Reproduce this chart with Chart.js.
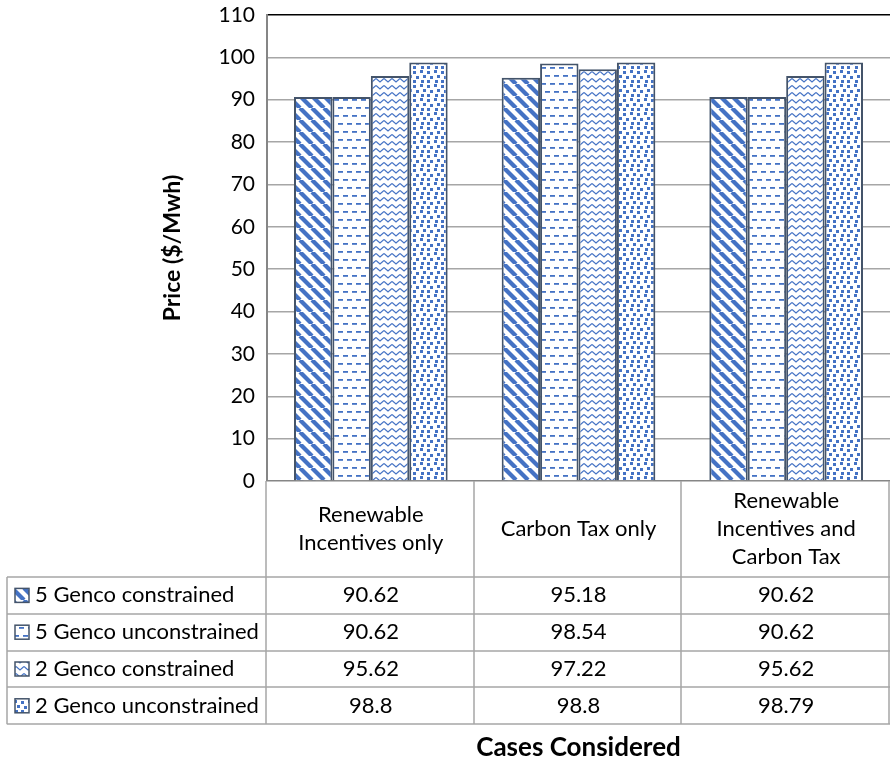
<!DOCTYPE html>
<html>
<head>
<meta charset="utf-8">
<script src="https://cdn.jsdelivr.net/npm/chart.js@4/dist/chart.umd.min.js"></script>
<style>
  body { margin: 0; background: #fff; }
  #wrap { width: 890px; height: 764px; }
</style>
</head>
<body>
<div id="wrap"><canvas id="priceChart" width="890" height="764"></canvas></div>
<script>
// Data
const categories = [['Renewable', 'Incentives only'], ['Carbon Tax only'], ['Renewable', 'Incentives and', 'Carbon Tax']];
const seriesNames = ['5 Genco constrained', '5 Genco unconstrained', '2 Genco constrained', '2 Genco unconstrained'];
const fiveConstrained = [90.62, 95.18, 90.62];
const fiveUnconstrained = [90.62, 98.54, 90.62];
const twoConstrained = [95.62, 97.22, 95.62];
const twoUnconstrained = [98.8, 98.8, 98.79];
const yMin = 0, yMax = 110, yStep = 10;

const BLUE = '#4472C4';
const EDGE = '#44546A';
const LINE = '#A6A6A6';
const FONT = 'Lato, "Open Sans", sans-serif';

// Fill patterns like Excel's pattern fills
function makePattern(kind) {
    const c = document.createElement('canvas');
    const g = c.getContext('2d');
    if (kind === 'diag') {
        c.width = 12; c.height = 12;
        g.fillStyle = '#fff'; g.fillRect(0, 0, 12, 12);
        g.strokeStyle = BLUE; g.lineWidth = 4.2;
        for (const x of [-12, 0, 12]) {
            g.beginPath(); g.moveTo(x, 0); g.lineTo(x + 12, 12); g.stroke();
        }
    } else if (kind === 'dash') {
        c.width = 9; c.height = 16;
        g.fillStyle = '#fff'; g.fillRect(0, 0, 9, 16);
        g.fillStyle = BLUE;
        g.fillRect(1, 3, 5, 1.8);
        g.fillRect(5, 11, 4, 1.8);
        g.fillRect(0, 11, 1, 1.8);
    } else if (kind === 'zigzag') {
        c.width = 8; c.height = 7;
        g.fillStyle = '#fff'; g.fillRect(0, 0, 8, 7);
        g.strokeStyle = BLUE; g.lineWidth = 1.2;
        g.beginPath(); g.moveTo(0, 1.5); g.lineTo(4, 5); g.lineTo(8, 1.5); g.stroke();
    } else {
        c.width = 14; c.height = 14;
        g.fillStyle = '#fff'; g.fillRect(0, 0, 14, 14);
        g.fillStyle = BLUE;
        [[0, 0], [7, 1], [3, 5], [10, 6], [1, 10], [7, 10]].forEach(p => g.fillRect(p[0], p[1], 3, 3));
    }
    return g.createPattern(c, 'repeat');
}

const patterns = ['diag', 'dash', 'zigzag', 'confetti'].map(makePattern);
const seriesData = [fiveConstrained, fiveUnconstrained, twoConstrained, twoUnconstrained];

// Data table under the plot
const dataTablePlugin = {
    id: 'dataTable',
    afterDraw(chart) {
        const ctx = chart.ctx;
        const area = chart.chartArea;
        const xs = chart.scales.x;
        const colW = xs.width / categories.length;
        const top = area.bottom;
        const headH = 96;
        const rowH = 36.8;
        const tableLeft = 7;
        const rowsTop = top + headH;
        const tableBottom = rowsTop + rowH * seriesNames.length;

        ctx.save();
        ctx.strokeStyle = LINE;
        ctx.lineWidth = 1.5;
        ctx.beginPath();
        // vertical lines
        for (let i = 0; i <= categories.length; i++) {
            const x = Math.round(xs.left + colW * i) - 1;
            ctx.moveTo(x, top); ctx.lineTo(x, tableBottom);
        }
        ctx.moveTo(tableLeft, rowsTop); ctx.lineTo(tableLeft, tableBottom);
        // horizontal lines
        for (let r = 0; r <= seriesNames.length; r++) {
            const y = Math.round(rowsTop + rowH * r);
            ctx.moveTo(tableLeft, y); ctx.lineTo(area.right, y);
        }
        ctx.stroke();

        ctx.fillStyle = '#000';
        ctx.font = '22px ' + FONT;
        ctx.textAlign = 'center';
        ctx.textBaseline = 'middle';
        categories.forEach((lines, i) => {
            const cx = xs.getPixelForValue(i);
            const lh = 28;
            const y0 = top + headH / 2 - (lines.length - 1) * lh / 2;
            lines.forEach((t, k) => ctx.fillText(t, cx, y0 + k * lh));
        });

        seriesNames.forEach((name, r) => {
            const cy = rowsTop + rowH * r + rowH / 2;
            // legend key
            ctx.fillStyle = patterns[r];
            ctx.fillRect(15, cy - 7, 14, 14);
            ctx.strokeStyle = EDGE;
            ctx.lineWidth = 1.5;
            ctx.strokeRect(15, cy - 7, 14, 14);
            ctx.fillStyle = '#000';
            ctx.textAlign = 'left';
            ctx.fillText(name, 35, cy);
            ctx.textAlign = 'center';
            seriesData[r].forEach((v, i) => {
                ctx.fillText(String(v), xs.getPixelForValue(i), cy);
            });
        });

        // x axis title
        ctx.font = 'bold 26px ' + FONT;
        ctx.fillText('Cases Considered', (xs.left + area.right) / 2, 748);
        ctx.restore();
    }
};

const chart = new Chart(document.getElementById('priceChart'), {
    type: 'bar',
    data: {
        labels: categories,
        datasets: seriesNames.map((name, i) => ({
            label: name,
            data: seriesData[i],
            backgroundColor: patterns[i],
            borderColor: EDGE,
            borderWidth: 2,
            categoryPercentage: 0.74,
            barPercentage: 1
        }))
    },
    options: {
        responsive: false,
        animation: false,
        devicePixelRatio: 1,
        layout: { padding: { left: 155, top: 15, right: 0, bottom: 283 } },
        plugins: {
            legend: { display: false },
            tooltip: { enabled: false }
        },
        scales: {
            x: {
                display: false
            },
            y: {
                min: yMin,
                max: yMax,
                ticks: {
                    stepSize: yStep,
                    padding: 12,
                    color: '#000',
                    font: { family: FONT, size: 21 }
                },
                grid: {
                    drawTicks: false,
                    lineWidth: 1.5,
                    color: c => c.tick && c.tick.value === yMax ? '#000' : (c.tick && c.tick.value === yMin ? '#868686' : LINE)
                },
                border: { color: '#868686', width: 2 },
                title: {
                    display: true,
                    text: 'Price ($/Mwh)',
                    color: '#000',
                    font: { family: FONT, size: 23, weight: 'bold' }
                },
                afterFit(scale) {
                    scale.width = 112;
                    scale.paddingTop = 0;
                    scale.paddingBottom = 0;
                }
            }
        }
    },
    plugins: [dataTablePlugin]
});
</script>
</body>
</html>
